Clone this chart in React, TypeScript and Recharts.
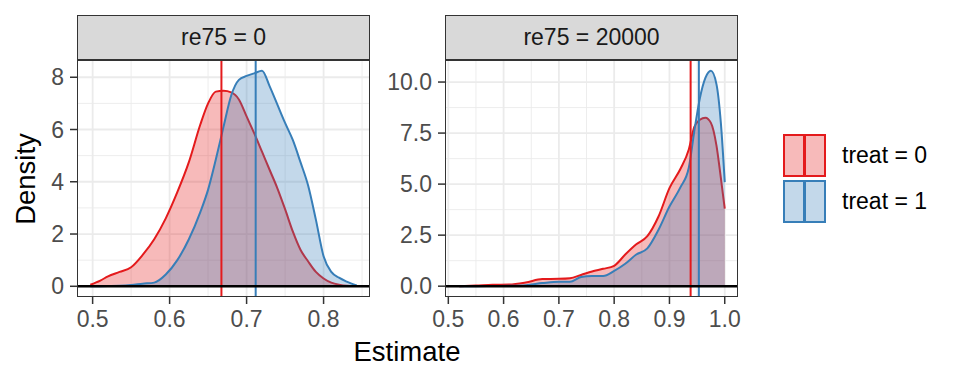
import React from "react";
import { ComposedChart, Area, XAxis, YAxis, CartesianGrid, ReferenceLine } from "recharts";

const RED = "#E41A1C";
const BLUE = "#377EB8";
const FONT = "'Liberation Sans', Arial, sans-serif";

// panel re75 = 0
const x0 = [0.497,0.51,0.52,0.535,0.55,0.565,0.58,0.595,0.61,0.625,0.64,0.65,0.66,0.67,0.68,0.69,0.70,0.71,0.72,0.73,0.74,0.75,0.76,0.77,0.78,0.79,0.80,0.81,0.82,0.83,0.843];
const red0 = [0.06,0.22,0.38,0.55,0.73,1.2,1.8,2.6,3.6,4.75,6.2,7.0,7.45,7.48,7.42,7.15,6.5,5.85,5.15,4.45,3.75,2.95,2.1,1.4,0.95,0.55,0.3,0.14,0.06,0.02,0.01];
const blue0 = [0,0.005,0.01,0.02,0.05,0.1,0.14,0.45,1.0,1.8,2.85,3.7,4.85,6.1,7.3,7.9,8.05,8.15,8.25,7.65,6.95,6.25,5.6,4.75,3.85,2.55,1.15,0.55,0.33,0.18,0.03];

// panel re75 = 20000
const x1 = [0.52,0.55,0.58,0.61,0.64,0.67,0.70,0.72,0.74,0.76,0.78,0.80,0.82,0.84,0.86,0.88,0.90,0.92,0.935,0.945,0.955,0.965,0.975,0.985,0.993,1.0];
const red1 = [0,0.03,0.07,0.08,0.18,0.35,0.36,0.39,0.55,0.72,0.85,1.0,1.55,2.05,2.45,3.4,4.8,5.75,6.7,7.8,8.15,8.25,8.0,6.9,5.3,3.8];
const blue1 = [0,0,0.01,0.02,0.05,0.15,0.22,0.22,0.45,0.5,0.5,0.75,1.1,1.55,1.85,2.75,3.9,4.85,5.8,7.6,9.2,10.2,10.55,9.9,8.0,5.1];

const means0 = [0.6673, 0.7118];
const means1 = [0.9383, 0.9532];

const panels = [
  { label: "re75 = 0", xs: x0, r: red0, b: blue0, means: means0, left: 0, yw: 77,
    xdom: [0.4797, 0.8603], xt: [0.5,0.6,0.7,0.8], xm: [0.55,0.65,0.75,0.85],
    ydom: [-0.41, 8.66], yt: [0,2,4,6,8], ym: [1,3,5,7], yfmt: (v) => String(v) },
  { label: "re75 = 20000", xs: x1, r: red1, b: blue1, means: means1, left: 370, yw: 75,
    xdom: [0.494, 1.024], xt: [0.5,0.6,0.7,0.8,0.9,1.0], xm: [0.55,0.65,0.75,0.85,0.95],
    ydom: [-0.53, 11.08], yt: [0,2.5,5,7.5,10], ym: [1.25,3.75,6.25,8.75], yfmt: (v) => v.toFixed(1) },
];

const tick = { fontSize: 23, fill: "#4D4D4D", fontFamily: FONT };

function Panel({ p }) {
  const data = p.xs.map((x, i) => ({ x, r: p.r[i], b: p.b[i] }));
  const w = p.yw + 293 + 10;
  const plotLeft = p.left + p.yw;
  return (
    <>
      <div style={{position:"absolute",left:plotLeft,top:15,width:293,height:45,background:"#D9D9D9",border:"1.5px solid #333",boxSizing:"border-box",display:"flex",alignItems:"center",justifyContent:"center",fontSize:23,color:"#1A1A1A",lineHeight:1}}>
        {p.label}
      </div>
      <div style={{position:"absolute",left:p.left,top:60}}>
        <ComposedChart width={w} height={277} data={data} margin={{top:0,right:10,bottom:0,left:0}}>
          <CartesianGrid stroke="#EBEBEB" strokeWidth={0.9} horizontalValues={p.ym} verticalValues={p.xm} />
          <CartesianGrid stroke="#EBEBEB" strokeWidth={1.8} horizontalValues={p.yt} verticalValues={p.xt} />
          <XAxis dataKey="x" type="number" domain={p.xdom} ticks={p.xt} allowDataOverflow height={40}
            axisLine={false} tickSize={7} tickMargin={7} tickLine={{stroke:"#333",strokeWidth:1.5}}
            tick={tick} tickFormatter={(v) => v.toFixed(1)} interval={0} />
          <YAxis type="number" domain={p.ydom} ticks={p.yt} allowDataOverflow width={p.yw}
            axisLine={false} tickSize={7} tickMargin={6} tickLine={{stroke:"#333",strokeWidth:1.5}}
            tick={tick} tickFormatter={p.yfmt} interval={0} />
          <Area dataKey="r" type="monotone" stroke={RED} strokeWidth={2} fill={RED} fillOpacity={0.3} dot={false} activeDot={false} isAnimationActive={false} />
          <Area dataKey="b" type="monotone" stroke={BLUE} strokeWidth={2} fill={BLUE} fillOpacity={0.3} dot={false} activeDot={false} isAnimationActive={false} />
          <ReferenceLine x={p.means[0]} stroke={RED} strokeWidth={2} />
          <ReferenceLine x={p.means[1]} stroke={BLUE} strokeWidth={2} />
          <ReferenceLine y={0} stroke="#000" strokeWidth={2.5} />
        </ComposedChart>
      </div>
      <div style={{position:"absolute",left:plotLeft,top:60,width:293,height:237,border:"1.5px solid #333",boxSizing:"border-box",pointerEvents:"none"}} />
    </>
  );
}

const legendItems = [
  { label: "treat = 0", color: RED, top: 134 },
  { label: "treat = 1", color: BLUE, top: 180 },
];

export default function App() {
  return (
    <div style={{position:"absolute",left:0,top:0,width:960,height:384,background:"#fff",fontFamily:FONT,overflow:"hidden"}}>
      {panels.map((p) => <Panel key={p.label} p={p} />)}
      <div style={{position:"absolute",left:25.5,top:178.5,transform:"translate(-50%,-50%) rotate(-90deg)",fontSize:27.5,lineHeight:1,color:"#000",whiteSpace:"nowrap"}}>Density</div>
      <div style={{position:"absolute",left:407,top:337.7,transform:"translateX(-50%)",fontSize:27.5,lineHeight:1,color:"#000",whiteSpace:"nowrap"}}>Estimate</div>
      {legendItems.map((it) => (
        <div key={it.label} style={{position:"absolute",left:783,top:it.top,height:43,display:"flex",alignItems:"center"}}>
          <div style={{position:"relative",width:43,height:43,boxSizing:"border-box",border:"2.5px solid " + it.color,background:it.color + "4D"}}>
            <div style={{position:"absolute",left:"50%",top:0,bottom:0,width:2.5,marginLeft:-1.25,background:it.color}} />
          </div>
          <span style={{marginLeft:16,fontSize:23,lineHeight:1,color:"#000",whiteSpace:"nowrap"}}>{it.label}</span>
        </div>
      ))}
    </div>
  );
}
